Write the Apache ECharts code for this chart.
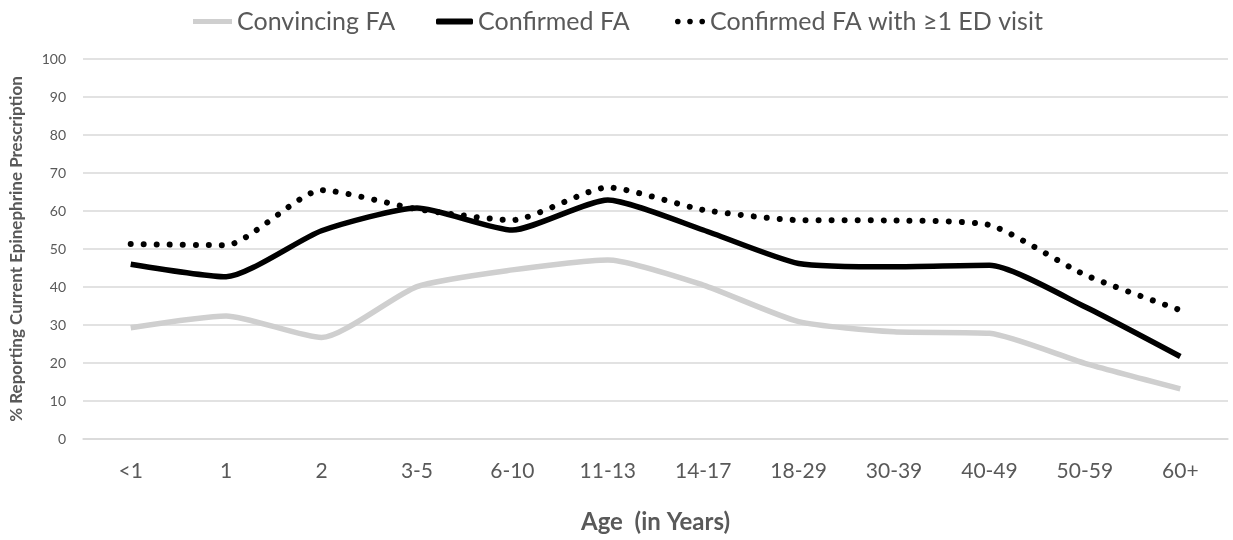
<!DOCTYPE html>
<html>
<head>
<meta charset="utf-8">
<script src="https://cdn.jsdelivr.net/npm/echarts@6/dist/echarts.min.js"></script>
<style>html,body{margin:0;padding:0;background:#fff;}#c{width:1233px;height:540px;}</style>
</head>
<body>
<div id="c"></div>
<script>
const categories = ['<1','1','2','3-5','6-10','11-13','14-17','18-29','30-39','40-49','50-59','60+'];
const convincingFA = [29.3, 32.4, 26.7, 40.1, 44.5, 47.1, 40.5, 30.9, 28.2, 27.8, 19.9, 13.2];
const confirmedFA = [46.0, 42.7, 54.8, 60.8, 55.0, 62.9, 55.0, 46.2, 45.3, 45.7, 34.8, 21.7];
const confirmedFAED = [51.3, 51.0, 65.5, 60.5, 57.6, 66.2, 60.3, 57.6, 57.5, 56.3, 43.2, 33.9];
const seriesNames = ['Convincing FA', 'Confirmed FA', 'Confirmed FA with \u22651 ED visit'];
const yTicks = [0, 10, 20, 30, 40, 50, 60, 70, 80, 90, 100];

const FONT = 'Lato, "Open Sans", sans-serif';
const TXT = '#595959';
const chart = echarts.init(document.getElementById('c'), null, {renderer: 'canvas'});
const legendText = {color: TXT, fontSize: 25, fontFamily: FONT};
const dotsIcon = 'path://M3,0A3,3,0,1,1,3,6A3,3,0,1,1,3,0Z M16,0A3,3,0,1,1,16,6A3,3,0,1,1,16,0Z M29,0A3,3,0,1,1,29,6A3,3,0,1,1,29,0Z';
chart.setOption({
  animation: false,
  backgroundColor: '#fff',
  legend: [
    {data: [{name: seriesNames[0], icon: 'rect'}], left: 193, top: 9, padding: 0, itemWidth: 39, itemHeight: 5, itemGap: 0, textStyle: legendText, selectedMode: false},
    {data: [{name: seriesNames[1], icon: 'roundRect'}], left: 436, top: 9, padding: 0, itemWidth: 37, itemHeight: 6, itemGap: 0, textStyle: legendText, selectedMode: false},
    {data: [{name: seriesNames[2], icon: dotsIcon}], left: 675, top: 9, padding: 0, itemWidth: 30, itemHeight: 6, itemGap: 0, textStyle: legendText, selectedMode: false}
  ],
  grid: {left: 74, right: 5, top: 59, bottom: 101, containLabel: false},
  xAxis: {
    type: 'category',
    data: categories,
    boundaryGap: true,
    axisLine: {show: true, lineStyle: {color: '#d9d9d9', width: 1.5}},
    axisTick: {show: false},
    axisLabel: {color: TXT, fontSize: 21, fontFamily: FONT, margin: 22},
    name: 'Age  (in Years)',
    nameLocation: 'middle',
    nameGap: 71,
    nameTextStyle: {color: TXT, fontSize: 24, fontWeight: 'bold', fontFamily: FONT}
  },
  yAxis: {
    type: 'value',
    min: yTicks[0],
    max: yTicks[yTicks.length - 1],
    interval: 10,
    axisLine: {show: false},
    axisTick: {show: false},
    splitLine: {lineStyle: {color: '#d9d9d9', width: 1.5}},
    axisLabel: {color: TXT, fontSize: 14, fontFamily: FONT, margin: 17},
    name: '% Reporting Current Epinephrine Prescription',
    nameLocation: 'middle',
    nameGap: 58,
    nameTextStyle: {color: TXT, fontSize: 17, fontWeight: 'bold', fontFamily: FONT}
  },
  series: [
    {name: seriesNames[0], type: 'line', data: convincingFA, showSymbol: false, smooth: 0.2,
     lineStyle: {color: '#cfcfcf', width: 5.5}, itemStyle: {color: '#cfcfcf'}, z: 2},
    {name: seriesNames[1], type: 'line', data: confirmedFA, showSymbol: false, smooth: 0.2,
     lineStyle: {color: '#000', width: 5.5}, itemStyle: {color: '#000'}, z: 3},
    {name: seriesNames[2], type: 'line', data: confirmedFAED, showSymbol: false, smooth: 0.2,
     lineStyle: {color: '#000', width: 6, type: [0.01, 13], cap: 'round'}, itemStyle: {color: '#000'}, z: 4}
  ]
});
</script>
</body>
</html>
